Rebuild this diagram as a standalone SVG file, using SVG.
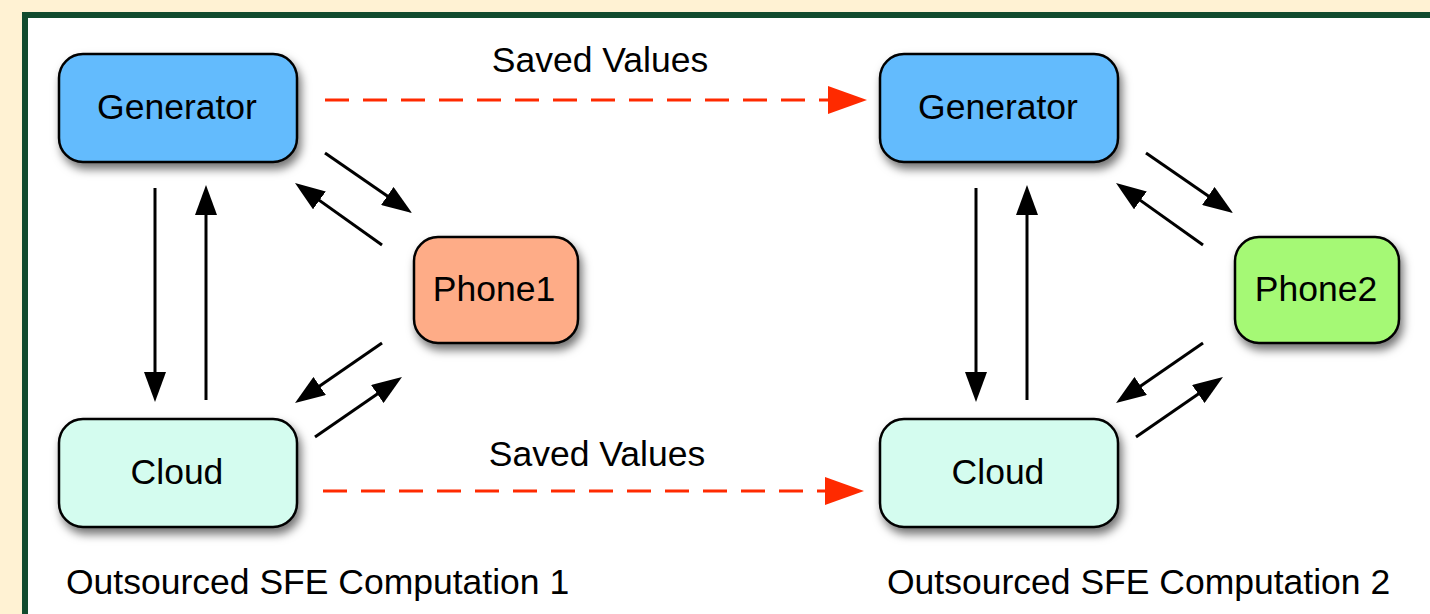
<svg xmlns="http://www.w3.org/2000/svg" width="1430" height="614" viewBox="0 0 1430 614">
  <style>
    .node { stroke: #000; stroke-width: 2.5; filter: url(#shadow); }
    .gen { fill: #63BBFD; }
    .cloud { fill: #D4FCEF; }
    .p1 { fill: #FEAC87; }
    .p2 { fill: #A5F974; }
    .lbl { font-family: "Liberation Sans", Arial, Helvetica, sans-serif; font-size: 35.5px; fill: #000; }
    .mid { text-anchor: middle; }
    .arr { stroke: #000; stroke-width: 3; fill: none; marker-end: url(#ah); }
    .save { stroke: #FF2A00; stroke-width: 3; fill: none; stroke-dasharray: 24 14; marker-end: url(#rh); }
  </style>
  <defs>
    <filter id="shadow" x="-20%" y="-20%" width="140%" height="150%">
      <feDropShadow dx="3" dy="6" stdDeviation="5" flood-color="#000" flood-opacity="0.55"/>
    </filter>
    <marker id="ah" markerUnits="userSpaceOnUse" markerWidth="30" markerHeight="22" viewBox="0 0 30 22" refX="22" refY="11" orient="auto">
      <path d="M0,0 L30,11 L0,22 z" fill="#000"/>
    </marker>
    <marker id="rh" markerUnits="userSpaceOnUse" markerWidth="39" markerHeight="28" viewBox="0 0 39 28" refX="31" refY="14" orient="auto">
      <path d="M0,0 L39,14 L0,28 z" fill="#FF2A00"/>
    </marker>
  </defs>

  <rect x="0" y="0" width="1430" height="614" fill="#FFF2D3"/>
  <rect x="25" y="15" width="1420" height="620" fill="#FFFFFF" stroke="#114B2E" stroke-width="6"/>

  <g id="connectors">
    <g id="connectors-1">
      <line class="arr" x1="155" y1="188" x2="155" y2="394"/>
      <line class="arr" x1="206" y1="400" x2="206" y2="193"/>
      <line class="arr" x1="325" y1="153" x2="405.4" y2="208.5"/>
      <line class="arr" x1="382" y1="245" x2="301.5" y2="187.6"/>
      <line class="arr" x1="382" y1="343" x2="301.6" y2="398.5"/>
      <line class="arr" x1="315" y1="437" x2="395.4" y2="381.5"/>
    </g>
    <g id="connectors-2" transform="translate(821,0)">
      <line class="arr" x1="155" y1="188" x2="155" y2="394"/>
      <line class="arr" x1="206" y1="400" x2="206" y2="193"/>
      <line class="arr" x1="325" y1="153" x2="405.4" y2="208.5"/>
      <line class="arr" x1="382" y1="245" x2="301.5" y2="187.6"/>
      <line class="arr" x1="382" y1="343" x2="301.6" y2="398.5"/>
      <line class="arr" x1="315" y1="437" x2="395.4" y2="381.5"/>
    </g>
    <line class="save" x1="325" y1="100" x2="859" y2="100"/>
    <line class="save" x1="323" y1="491" x2="856" y2="491"/>
    <text class="lbl mid" x="600" y="72">Saved Values</text>
    <text class="lbl mid" x="597" y="466">Saved Values</text>
  </g>

  <g id="generator1">
    <rect class="node gen" x="59" y="54" width="238" height="108" rx="24"/>
    <text class="lbl mid" x="177" y="119">Generator</text>
  </g>
  <g id="cloud1">
    <rect class="node cloud" x="59" y="419" width="238" height="108" rx="24"/>
    <text class="lbl mid" x="177" y="484">Cloud</text>
  </g>
  <g id="phone1">
    <rect class="node p1" x="414" y="237" width="164" height="106" rx="24"/>
    <text class="lbl mid" x="494" y="301">Phone1</text>
  </g>
  <g id="generator2">
    <rect class="node gen" x="880" y="54" width="238" height="108" rx="24"/>
    <text class="lbl mid" x="998" y="119">Generator</text>
  </g>
  <g id="cloud2">
    <rect class="node cloud" x="880" y="419" width="238" height="108" rx="24"/>
    <text class="lbl mid" x="998" y="484">Cloud</text>
  </g>
  <g id="phone2">
    <rect class="node p2" x="1235" y="237" width="164" height="106" rx="24"/>
    <text class="lbl mid" x="1316" y="301">Phone2</text>
  </g>

  <text class="lbl" x="66" y="594">Outsourced SFE Computation 1</text>
  <text class="lbl" x="887" y="594">Outsourced SFE Computation 2</text>
</svg>
